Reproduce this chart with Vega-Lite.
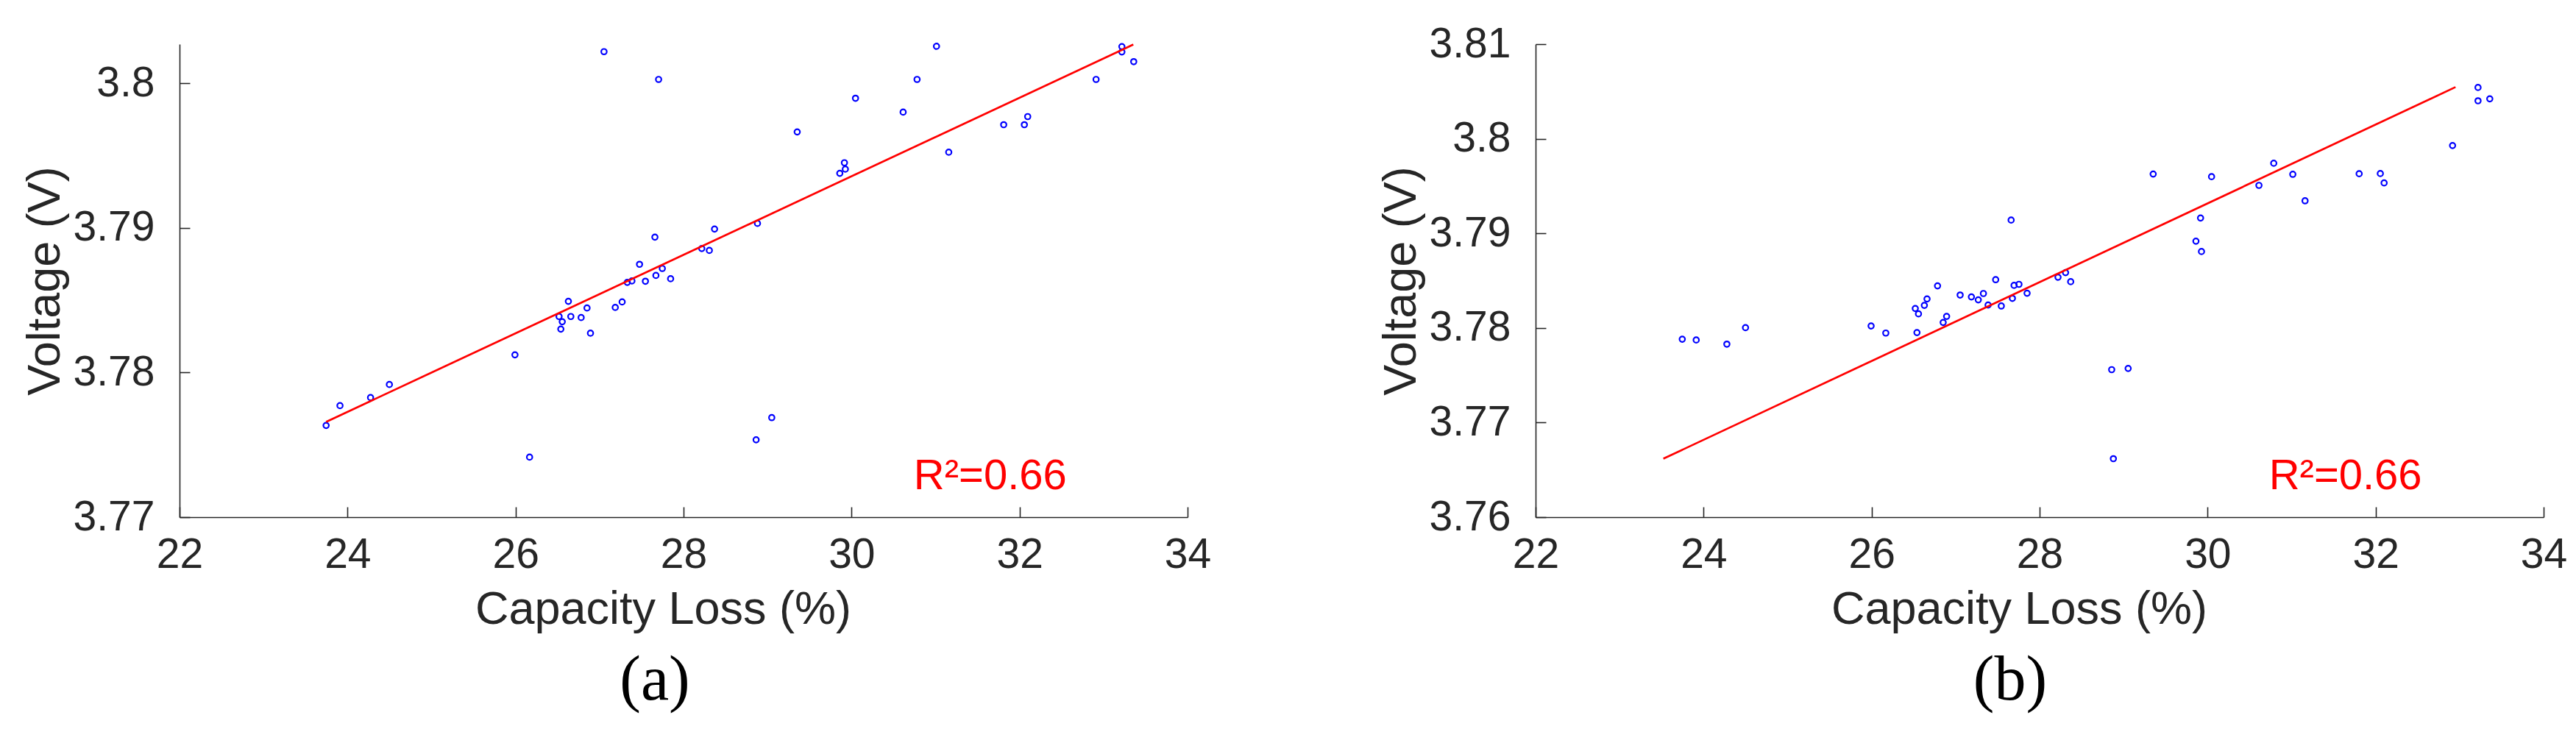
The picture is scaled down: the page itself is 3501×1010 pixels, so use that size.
{
  "$schema": "https://vega.github.io/schema/vega-lite/v6.json",
  "background": "white",
  "autosize": {"type": "pad"},
  "padding": {"left": 30, "top": 31, "right": 5, "bottom": 5},
  "bounds": "flush",
  "spacing": 473,
  "config": {
    "view": {"stroke": null},
    "axis": {
      "grid": false,
      "domainColor": "#262626",
      "domainWidth": 1.6,
      "tickColor": "#262626",
      "tickWidth": 1.6,
      "labelColor": "#262626",
      "titleColor": "#262626",
      "labelFont": "Liberation Sans",
      "titleFont": "Liberation Sans",
      "labelFontSize": 57,
      "titleFontSize": 63,
      "titleFontWeight": "normal",
      "labelFlush": false,
      "labelOverlap": false
    },
    "title": {
      "font": "Liberation Serif",
      "fontSize": 86,
      "fontWeight": "normal",
      "color": "#000000"
    }
  },
  "datasets": {
    "pointsA": [
      {"cap": 23.745, "v": 3.77634}, {"cap": 23.910, "v": 3.77771}, {"cap": 24.274, "v": 3.77827}, {"cap": 24.498, "v": 3.77917},
      {"cap": 25.993, "v": 3.78122}, {"cap": 26.167, "v": 3.77415}, {"cap": 26.518, "v": 3.78387}, {"cap": 26.539, "v": 3.78300},
      {"cap": 26.556, "v": 3.78351}, {"cap": 26.629, "v": 3.78492}, {"cap": 26.658, "v": 3.78387}, {"cap": 26.781, "v": 3.78380},
      {"cap": 26.851, "v": 3.78446}, {"cap": 26.892, "v": 3.78272}, {"cap": 27.053, "v": 3.80218}, {"cap": 27.187, "v": 3.78450},
      {"cap": 27.269, "v": 3.78488}, {"cap": 27.330, "v": 3.78623}, {"cap": 27.385, "v": 3.78633}, {"cap": 27.476, "v": 3.78748},
      {"cap": 27.546, "v": 3.78631}, {"cap": 27.659, "v": 3.78936}, {"cap": 27.671, "v": 3.78671}, {"cap": 27.703, "v": 3.80026},
      {"cap": 27.747, "v": 3.78719}, {"cap": 27.846, "v": 3.78648}, {"cap": 28.217, "v": 3.78857}, {"cap": 28.307, "v": 3.78844},
      {"cap": 28.369, "v": 3.78992}, {"cap": 28.864, "v": 3.77535}, {"cap": 28.880, "v": 3.79031}, {"cap": 29.050, "v": 3.77688},
      {"cap": 29.353, "v": 3.79663}, {"cap": 29.860, "v": 3.79377}, {"cap": 29.915, "v": 3.79450}, {"cap": 29.926, "v": 3.79406},
      {"cap": 30.047, "v": 3.79896}, {"cap": 30.614, "v": 3.79800}, {"cap": 30.780, "v": 3.80026}, {"cap": 31.011, "v": 3.80255},
      {"cap": 31.157, "v": 3.79523}, {"cap": 31.811, "v": 3.79713}, {"cap": 32.057, "v": 3.79713}, {"cap": 32.097, "v": 3.79769},
      {"cap": 32.911, "v": 3.80026}, {"cap": 33.218, "v": 3.80253}, {"cap": 33.218, "v": 3.80216}, {"cap": 33.359, "v": 3.80149}
    ],
    "pointsB": [
      {"cap": 23.746, "v": 3.77881}, {"cap": 23.912, "v": 3.77873}, {"cap": 24.277, "v": 3.77829}, {"cap": 24.499, "v": 3.78003},
      {"cap": 25.994, "v": 3.78021}, {"cap": 26.169, "v": 3.77946}, {"cap": 26.520, "v": 3.78206}, {"cap": 26.540, "v": 3.77951},
      {"cap": 26.558, "v": 3.78149}, {"cap": 26.628, "v": 3.78239}, {"cap": 26.660, "v": 3.78307}, {"cap": 26.785, "v": 3.78445},
      {"cap": 26.852, "v": 3.78058}, {"cap": 26.893, "v": 3.78122}, {"cap": 27.054, "v": 3.78348}, {"cap": 27.188, "v": 3.78328},
      {"cap": 27.270, "v": 3.78297}, {"cap": 27.331, "v": 3.78364}, {"cap": 27.387, "v": 3.78242}, {"cap": 27.477, "v": 3.78510},
      {"cap": 27.544, "v": 3.78232}, {"cap": 27.661, "v": 3.79140}, {"cap": 27.676, "v": 3.78313}, {"cap": 27.696, "v": 3.78450},
      {"cap": 27.754, "v": 3.78461}, {"cap": 27.851, "v": 3.78367}, {"cap": 28.219, "v": 3.78536}, {"cap": 28.309, "v": 3.78585},
      {"cap": 28.370, "v": 3.78489}, {"cap": 28.858, "v": 3.77559}, {"cap": 28.878, "v": 3.76618}, {"cap": 29.054, "v": 3.77572},
      {"cap": 29.352, "v": 3.79627}, {"cap": 29.861, "v": 3.78917}, {"cap": 29.916, "v": 3.79162}, {"cap": 29.927, "v": 3.78808},
      {"cap": 30.047, "v": 3.79599}, {"cap": 30.611, "v": 3.79507}, {"cap": 30.787, "v": 3.79741}, {"cap": 31.014, "v": 3.79624},
      {"cap": 31.160, "v": 3.79344}, {"cap": 31.804, "v": 3.79630}, {"cap": 32.056, "v": 3.79632}, {"cap": 32.101, "v": 3.79533},
      {"cap": 32.916, "v": 3.79928}, {"cap": 33.219, "v": 3.80542}, {"cap": 33.219, "v": 3.80401}, {"cap": 33.359, "v": 3.80422}
    ],
    "fitA": [{"cap": 23.745, "v": 3.77659}, {"cap": 33.354, "v": 3.80267}],
    "fitB": [{"cap": 23.521, "v": 3.76618}, {"cap": 32.951, "v": 3.80546}],
    "blank": [{}]
  },
  "hconcat": [
    {
      "width": 1370,
      "height": 643,
      "title": {"text": "(a)", "orient": "bottom", "anchor": "middle", "dx": -39, "offset": 91, "baseline": "alphabetic"},
      "layer": [
        {
          "data": {"name": "pointsA"},
          "mark": {"type": "point", "shape": "circle", "filled": false, "color": "#0000ff", "size": 56, "strokeWidth": 2.2, "opacity": 1},
          "encoding": {
            "x": {"field": "cap", "type": "quantitative",
                  "scale": {"domain": [22, 34], "nice": false, "zero": false},
                  "axis": {"values": [22, 24, 26, 28, 30, 32, 34], "format": "d", "tickSize": -14, "labelPadding": 37,
                           "title": "Capacity Loss (%)", "titleX": 657, "titleY": 144, "titleBaseline": "alphabetic"}},
            "y": {"field": "v", "type": "quantitative",
                  "scale": {"domain": [3.77, 3.8027], "nice": false, "zero": false},
                  "axis": {"values": [3.77, 3.78, 3.79, 3.8], "format": ".2~f", "tickSize": -14, "labelPadding": 48,
                           "title": "Voltage (V)", "titleX": -164, "titleY": 321.5, "titleAngle": -90, "titleBaseline": "alphabetic"}}
          }
        },
        {
          "data": {"name": "fitA"},
          "mark": {"type": "line", "color": "#ff0000", "strokeWidth": 2.7},
          "encoding": {
            "x": {"field": "cap", "type": "quantitative"},
            "y": {"field": "v", "type": "quantitative"}
          }
        },
        {
          "data": {"name": "blank"},
          "mark": {"type": "text", "align": "left", "baseline": "alphabetic", "font": "Liberation Sans", "fontSize": 58, "color": "#ff0000"},
          "encoding": {
            "x": {"datum": 30.74, "type": "quantitative"},
            "y": {"datum": 3.77195, "type": "quantitative"},
            "text": {"value": "R²=0.66"}
          }
        }
      ]
    },
    {
      "width": 1370,
      "height": 643,
      "title": {"text": "(b)", "orient": "bottom", "anchor": "middle", "dx": -40, "offset": 91, "baseline": "alphabetic"},
      "layer": [
        {
          "data": {"name": "pointsB"},
          "mark": {"type": "point", "shape": "circle", "filled": false, "color": "#0000ff", "size": 56, "strokeWidth": 2.2, "opacity": 1},
          "encoding": {
            "x": {"field": "cap", "type": "quantitative",
                  "scale": {"domain": [22, 34], "nice": false, "zero": false},
                  "axis": {"values": [22, 24, 26, 28, 30, 32, 34], "format": "d", "tickSize": -14, "labelPadding": 37,
                           "title": "Capacity Loss (%)", "titleX": 657, "titleY": 144, "titleBaseline": "alphabetic"}},
            "y": {"field": "v", "type": "quantitative",
                  "scale": {"domain": [3.76, 3.81], "nice": false, "zero": false},
                  "axis": {"values": [3.76, 3.77, 3.78, 3.79, 3.8, 3.81], "format": ".2~f", "tickSize": -14, "labelPadding": 48,
                           "title": "Voltage (V)", "titleX": -164, "titleY": 321.5, "titleAngle": -90, "titleBaseline": "alphabetic"}}
          }
        },
        {
          "data": {"name": "fitB"},
          "mark": {"type": "line", "color": "#ff0000", "strokeWidth": 2.7},
          "encoding": {
            "x": {"field": "cap", "type": "quantitative"},
            "y": {"field": "v", "type": "quantitative"}
          }
        },
        {
          "data": {"name": "blank"},
          "mark": {"type": "text", "align": "left", "baseline": "alphabetic", "font": "Liberation Sans", "fontSize": 58, "color": "#ff0000"},
          "encoding": {
            "x": {"datum": 30.73, "type": "quantitative"},
            "y": {"datum": 3.76296, "type": "quantitative"},
            "text": {"value": "R²=0.66"}
          }
        }
      ]
    }
  ]
}
